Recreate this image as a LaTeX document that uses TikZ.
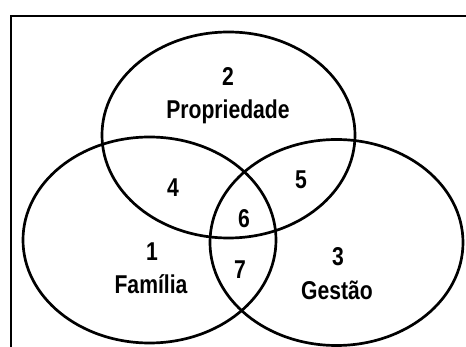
\documentclass[tikz,border=0pt]{standalone}
\usepackage{fontspec}
\setmainfont[FakeStretch=0.82]{Liberation Sans}
\usetikzlibrary{positioning}

\tikzset{
  setline/.style={line width=2.3pt},
  lbl/.style={font=\fontsize{22}{24}\selectfont\bfseries, inner sep=0pt},
}

\begin{document}
\begin{tikzpicture}[x=0.03cm, y=-0.03cm]
  \useasboundingbox (0,0) rectangle (466,347);
  \clip (0,0) rectangle (466,347);
  % frame
  \draw[line width=1.7pt] (11,360) -- (11,16) -- (480,16);
  % three sets
  \coordinate (cprop) at (228.5,135);
  \coordinate (cfam)  at (149.5,240);
  \coordinate (cgest) at (336.5,242.5);
  \draw[setline] (cprop) ellipse (126.5 and 103);
  \draw[setline] (cfam)  ellipse (126.5 and 103);
  \draw[setline] (cgest) ellipse (126.5 and 103);
  % labels
  \node[lbl] (n2) at (228,77) {2};
  \node[lbl] (prop) at (228,112) {Propriedade};
  \node[lbl] (n4) at (173,188) {4};
  \node[lbl] (n5) at (301,180) {5};
  \node[lbl] (n6) at (244,219) {6};
  \node[lbl] (n7) at (240,270) {7};
  \node[lbl] (n1) at (152,252) {1};
  \node[lbl] (fam) at (151,284) {Família};
  \node[lbl] (n3) at (338,257) {3};
  \node[lbl] (gest) at (337,290) {Gestão};
\end{tikzpicture}
\end{document}
